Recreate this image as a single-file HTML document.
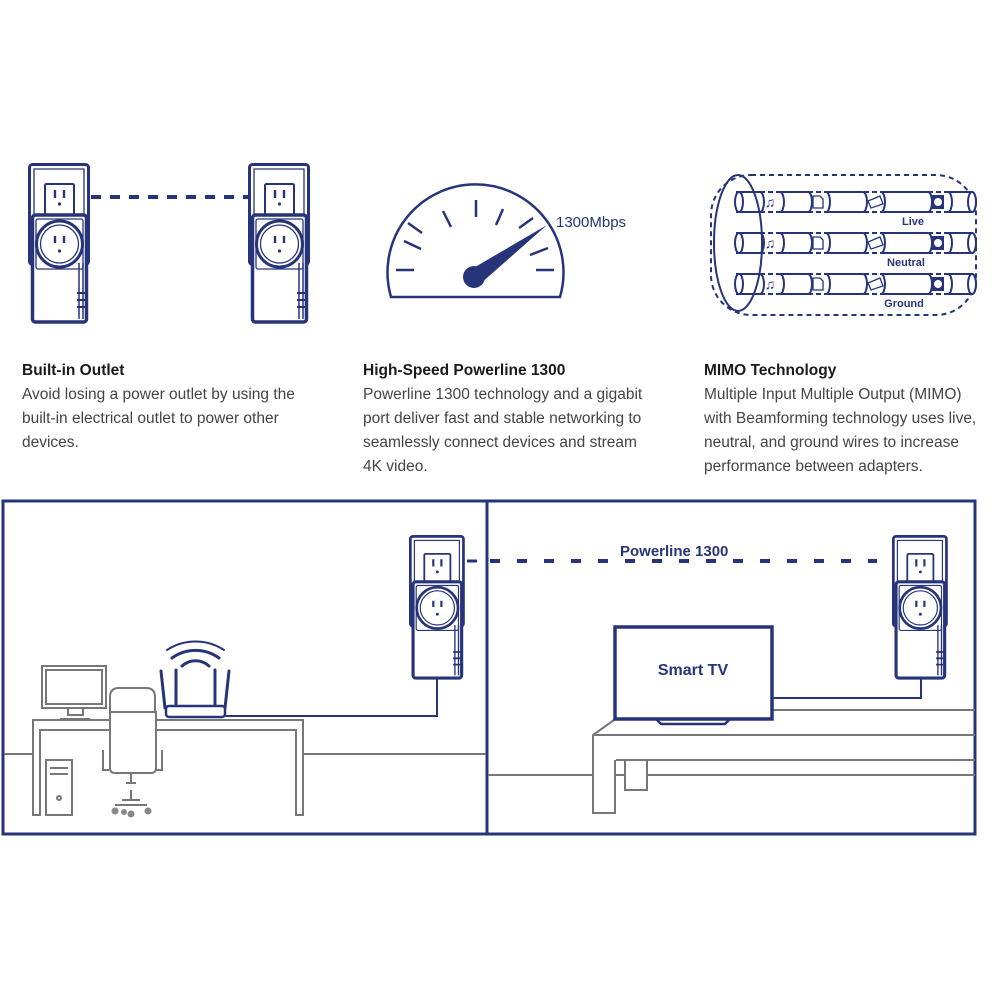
<!DOCTYPE html>
<html><head><meta charset="utf-8"><style>
html,body{margin:0;padding:0;background:#fff;}
body{width:1000px;height:1000px;position:relative;overflow:hidden;font-family:"Liberation Sans",Arial,sans-serif;}
.col{position:absolute;top:359px;font-size:15.5px;line-height:24px;color:#444;white-space:nowrap;}
.col b{color:#1a1a1a;display:block;}
svg{position:absolute;left:0;top:0;}
</style></head><body>
<svg width="1000" height="1000" viewBox="0 0 1000 1000">
<defs>
<g id="ad">
  <rect x="1.5" y="1.5" width="59" height="100" rx="3" fill="#fff" stroke="#27347a" stroke-width="3"/>
  <path d="M6 101 V6 H56 V101" fill="none" stroke="#27347a" stroke-width="1.3"/>
  <rect x="17" y="21" width="29" height="32" rx="1.5" fill="#fff" stroke="#27347a" stroke-width="2"/>
  <path d="M27 27 v8 M36 27 v8" stroke="#27347a" stroke-width="2.4"/>
  <circle cx="31.5" cy="41" r="1.6" fill="#27347a"/>
  <rect x="4.5" y="52" width="54" height="107" rx="3" fill="#fff" stroke="#27347a" stroke-width="3.5"/>
  <rect x="8" y="56" width="47" height="50" rx="2" fill="none" stroke="#27347a" stroke-width="1.3"/>
  <circle cx="31.5" cy="81" r="23" fill="#fff" stroke="#27347a" stroke-width="3"/>
  <circle cx="31.5" cy="81" r="19" fill="none" stroke="#27347a" stroke-width="1.3"/>
  <path d="M27 73 v7 M36 73 v7" stroke="#27347a" stroke-width="2.4"/>
  <circle cx="31.5" cy="88" r="1.6" fill="#27347a"/>
  <path d="M51 100 V156 M55 100 V156" stroke="#27347a" stroke-width="1.5"/>
  <path d="M49 130 h8 M49 137 h8 M49 144 h8" stroke="#27347a" stroke-width="2"/>
</g>
<g id="pipe" stroke="#27347a" stroke-width="2" fill="#fff">
  <path d="M0 -10 H240 M0 10 H240" stroke-dasharray="5 3" fill="none"/>
  <path d="M3 -10 H24 a4 10 0 0 1 0 20 H3 Z"/>
  <ellipse cx="3" cy="0" rx="4" ry="10"/>
  <path d="M44 -10 H72 a4 10 0 0 1 0 20 H44 a4 10 0 0 0 0 -20 Z"/>
  <path d="M90 -10 H127 a4 10 0 0 1 0 20 H90 a4 10 0 0 0 0 -20 Z"/>
  <path d="M145 -10 H192 a4 10 0 0 1 0 20 H145 a4 10 0 0 0 0 -20 Z"/>
  <path d="M212 -10 H236 a4 10 0 0 1 0 20 H212 a4 10 0 0 0 0 -20 Z"/>
  <ellipse cx="236" cy="0" rx="4" ry="10"/>
  <text x="34" y="5" font-size="14" fill="#27347a" stroke="none" text-anchor="middle">♫</text>
  <path d="M77 -6 h7 l3 3 v9 h-10 z" fill="none" stroke-width="1.3"/>
  <path d="M132 -1 l12 -5 l3 8 l-12 4 z" fill="none" stroke-width="1.3"/>
  <rect x="196" y="-7" width="12" height="14" fill="#27347a" stroke="none"/>
  <circle cx="202" cy="0" r="4" fill="#fff" stroke="none"/>
</g>
</defs>

<use href="#ad" x="28" y="163"/>
<use href="#ad" x="248" y="163"/>
<path d="M91 197 H248" stroke="#27347a" stroke-width="4" stroke-dasharray="10 9"/>

<path d="M391 297 A88 88 0 1 1 560 297 Z" fill="#fff" stroke="#27347a" stroke-width="2.5"/>
<g stroke="#27347a" stroke-width="2.5">
<path d="M396 270 h18 M536 270 h18"/>
<path d="M404 241 l17 8 M408 223 l14 10 M443 211 l8 16 M476 200 v17 M503 209 l-7 16 M533 218 l-14 10 M548 248 l-18 7"/>
</g>
<path d="M470 270 L547 225 L480 284 Z" fill="#27347a"/>
<circle cx="474" cy="277" r="11" fill="#27347a"/>
<text x="556" y="227" font-size="15" fill="#27347a">1300Mbps</text>

<rect x="711" y="175" width="265" height="140" rx="40" fill="none" stroke="#27347a" stroke-width="2" stroke-dasharray="5 4"/>
<use href="#pipe" x="736" y="202"/>
<use href="#pipe" x="736" y="243"/>
<use href="#pipe" x="736" y="284"/>
<ellipse cx="738" cy="243" rx="24" ry="68" fill="none" stroke="#27347a" stroke-width="2"/>
<g font-size="11" font-weight="bold" fill="#27347a" text-anchor="middle">
<text x="913" y="225">Live</text><text x="906" y="266">Neutral</text><text x="904" y="307">Ground</text>
</g>

<rect x="3" y="501" width="972" height="333" fill="none" stroke="#27347a" stroke-width="3"/>
<path d="M487 501 V834" stroke="#27347a" stroke-width="3"/>

<g stroke="#777" stroke-width="2" fill="none">
<path d="M4 754 H33 M303 754 H486"/>
<path d="M33 815 V720 H303 V815 H296 V730 H40 V815 Z" fill="#fff"/>
<rect x="42" y="666" width="64" height="42" fill="#fff"/>
<rect x="46" y="670" width="56" height="34"/>
<path d="M68 708 v7 h15 v-7 M60 719 h30"/>
<rect x="46" y="760" width="26" height="55" fill="#fff"/>
<path d="M50 768 h18 M50 774 h18"/>
<circle cx="59" cy="798" r="2"/>
<path d="M110 713 V697 q0-9 9-9 h27 q9 0 9 9 v16 Z" fill="#fff"/>
<path d="M110 712 V768 q0 5 5 5 h36 q5 0 5-5 V712 Z" fill="#fff"/>
<path d="M103 750 v20 h6 M162 750 v20 h-6 M131 773 v10 M126 783 h10 M131 790 v10 M115 805 h32 M122 800 h18"/>
</g>
<g fill="#888"><circle cx="115" cy="811" r="3.5"/><circle cx="148" cy="811" r="3.5"/><circle cx="131" cy="814" r="3.5"/><circle cx="124" cy="812" r="3"/></g>
<g stroke="#27347a" fill="none" stroke-linecap="round">
<path d="M167 650 a52 52 0 0 1 57 0" stroke-width="2"/>
<path d="M172 658 a40 40 0 0 1 47 0" stroke-width="3"/>
<path d="M182 666 a20 20 0 0 1 27 0" stroke-width="3"/>
<path d="M161 671 l4 37 M176 670 v38 M215 670 v38 M229 671 l-4 37" stroke-width="3"/>
<rect x="166" y="706" width="59" height="11" rx="3" stroke-width="2.5" fill="#fff"/>
<path d="M226 716 H437 V678" stroke-width="2"/>
</g>
<use href="#ad" transform="translate(409 535) scale(0.9)"/>
<path d="M467 561 h10" stroke="#27347a" stroke-width="3"/>

<path d="M490 561 H877" stroke="#27347a" stroke-width="4" stroke-dasharray="10 17"/>
<text x="620" y="556" font-size="15" font-weight="bold" fill="#27347a">Powerline 1300</text>
<g stroke="#777" stroke-width="2" fill="none">
<path d="M773 710 H975 M593 735 H975 M616 760 H975 M488 775 H593 M648 775 H975"/>
<path d="M614 720 L593 735 V813 H615 V760"/>
<rect x="625" y="760" width="22" height="30"/>
<path d="M615 775 h10"/>
</g>
<rect x="615" y="627" width="157" height="92" fill="#fff" stroke="#27347a" stroke-width="3.5"/>
<path d="M657 720 l4 4 h64 l4 -4" fill="none" stroke="#27347a" stroke-width="2.5"/>
<text x="693" y="675" font-size="16" font-weight="bold" fill="#27347a" text-anchor="middle">Smart TV</text>
<path d="M773 698 H921 V678" fill="none" stroke="#27347a" stroke-width="2"/>
<use href="#ad" transform="translate(892 535) scale(0.9)"/>
</svg>

<div class="col" style="left:22px;"><b>Built-in Outlet</b>Avoid losing a power outlet by using the<br>built-in electrical outlet to power other<br>devices.</div>
<div class="col" style="left:363px;"><b>High-Speed Powerline 1300</b>Powerline 1300 technology and a gigabit<br>port deliver fast and stable networking to<br>seamlessly connect devices and stream<br>4K video.</div>
<div class="col" style="left:704px;"><b>MIMO Technology</b>Multiple Input Multiple Output (MIMO)<br>with Beamforming technology uses live,<br>neutral, and ground wires to increase<br>performance between adapters.</div>
</body></html>
